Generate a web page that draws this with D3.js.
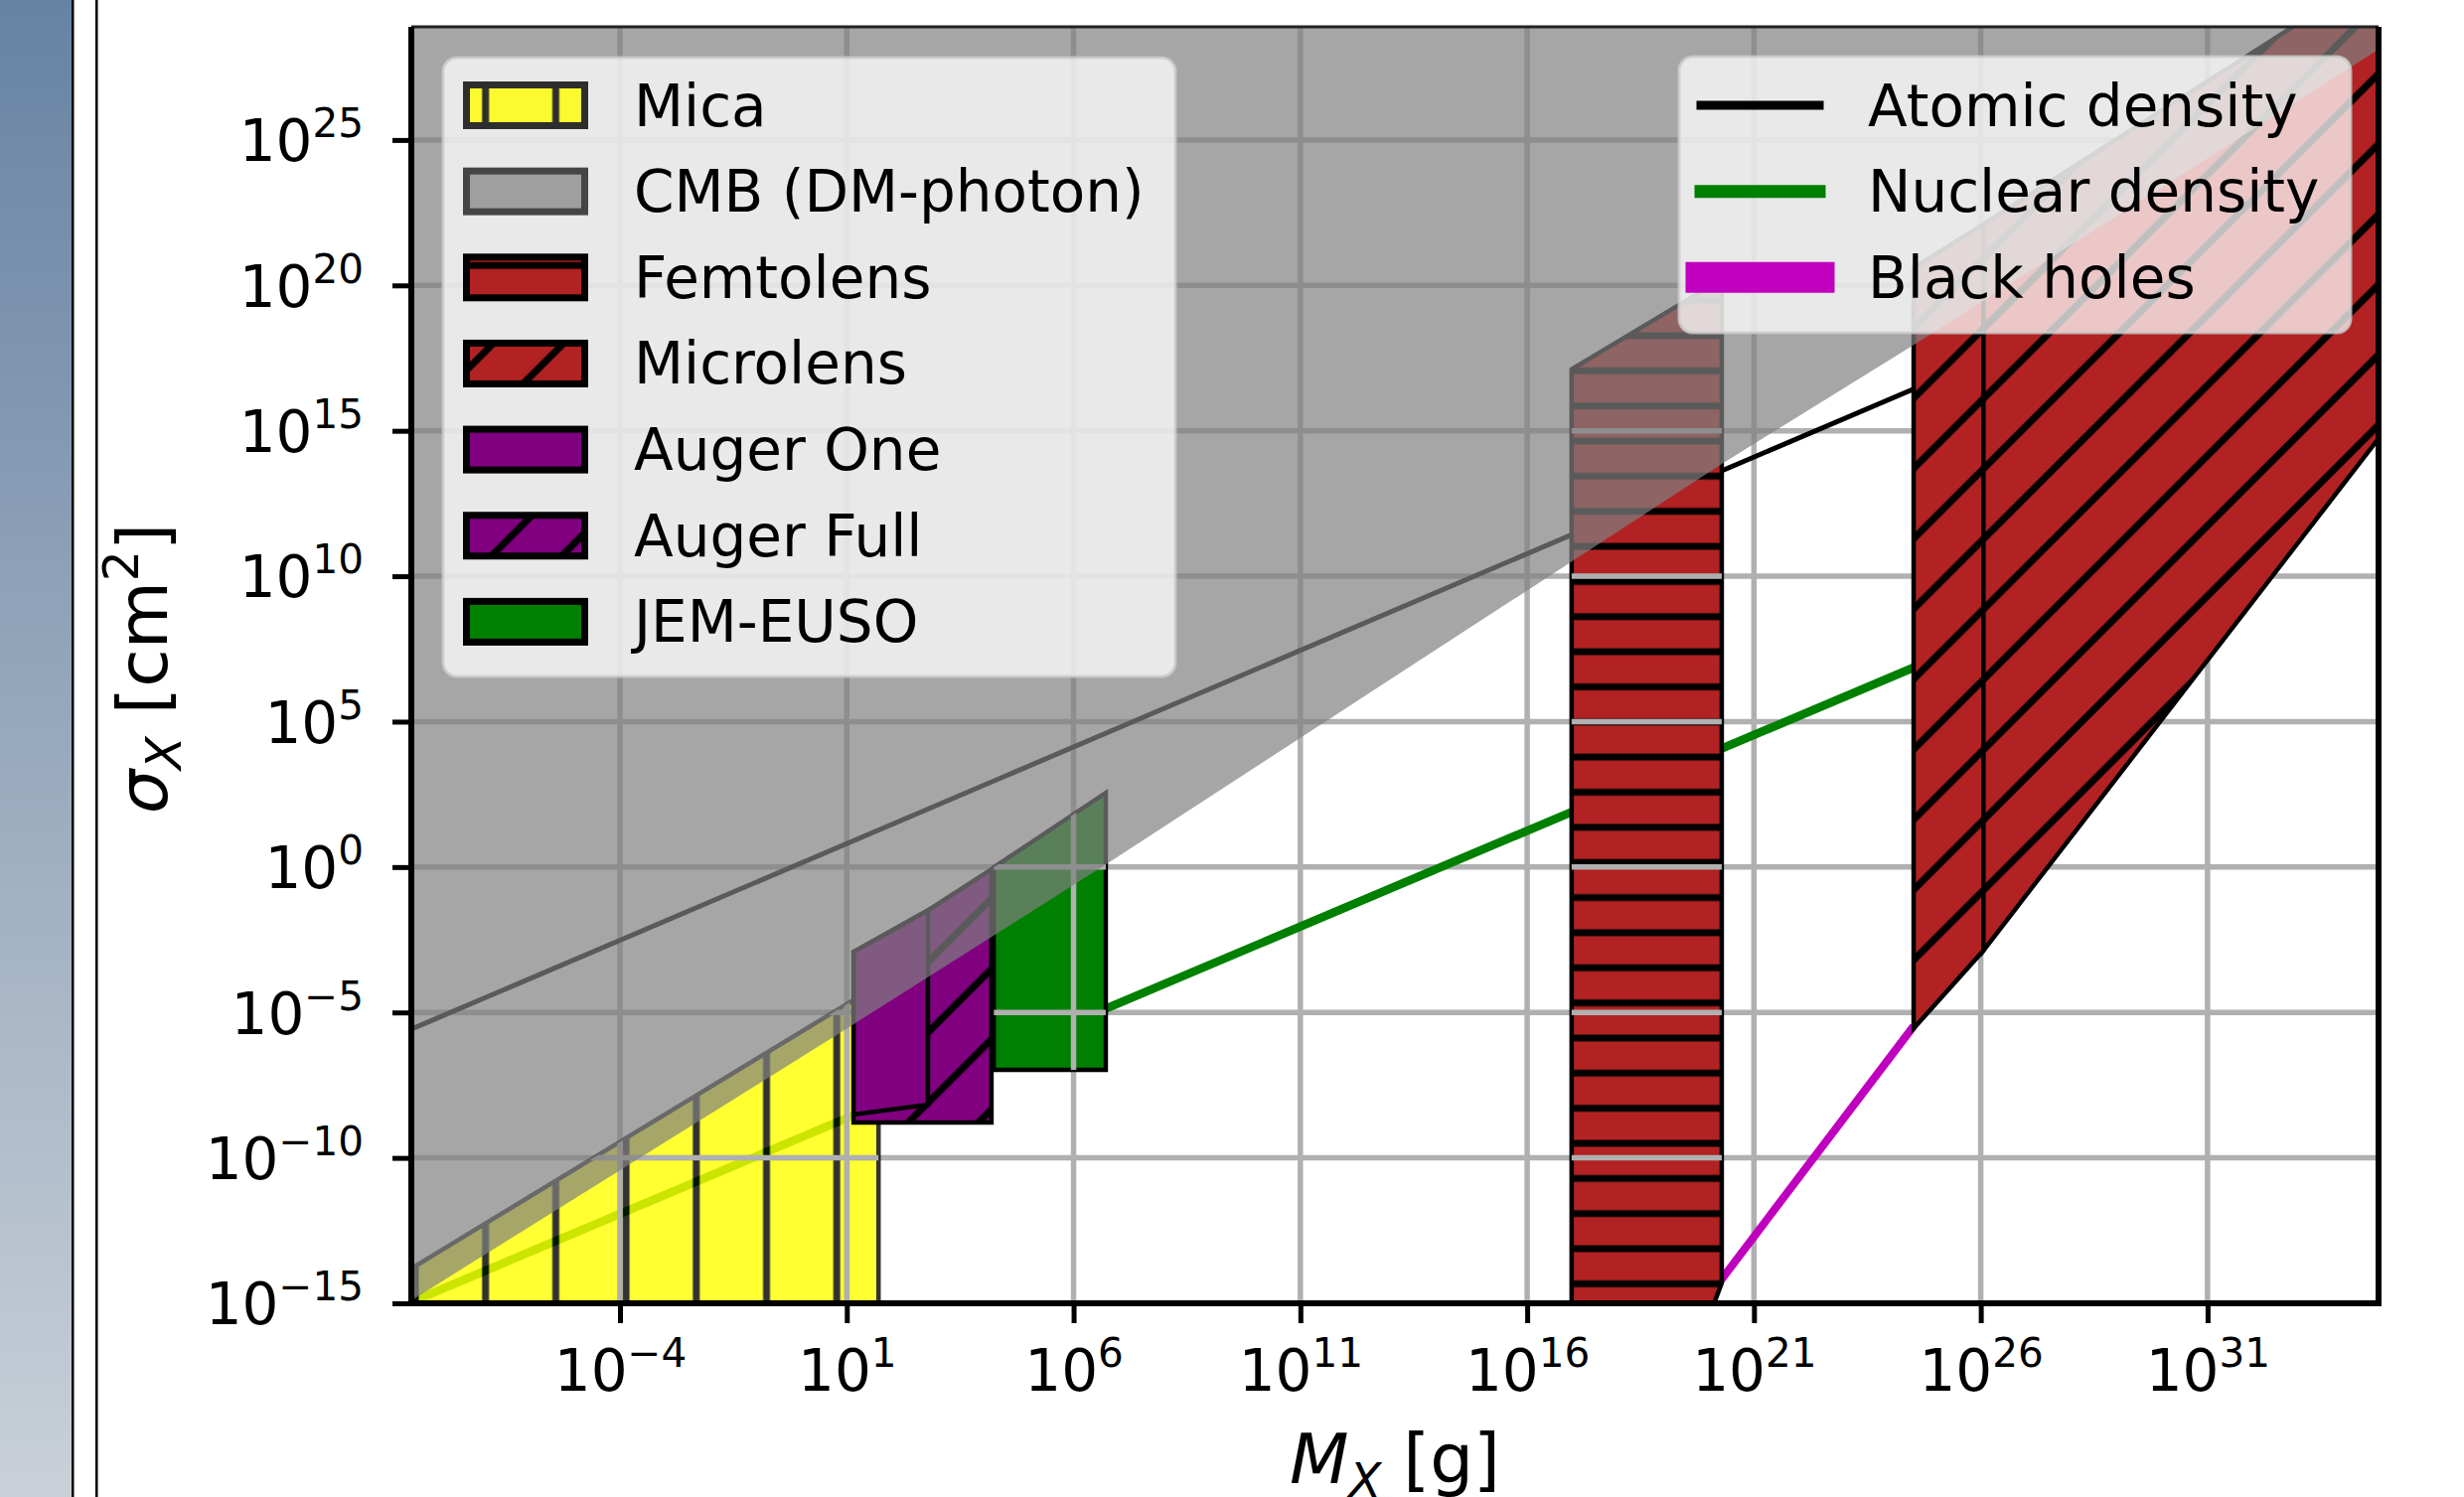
<!DOCTYPE html>
<html>
<head>
<meta charset="utf-8">
<script src="https://cdn.jsdelivr.net/npm/d3@7"></script>
<style>
  html, body { margin: 0; padding: 0; background: #fff; }
  svg { display: block; font-family: "DejaVu Sans", sans-serif; }
</style>
</head>
<body>
<script>
// all values are log10 exponents: [log10 M (g), log10 sigma (cm^2)]
var xTicks = [-4, 1, 6, 11, 16, 21, 26, 31]
var yTicks = [-15, -10, -5, 0, 5, 10, 15, 20, 25]
var xDomain = [-8.6, 34.77]
var yDomain = [-15, 28.89]

var mica = [[-8.7, -15.3], [-8.7, -13.9], [1.70, -4.05], [1.70, -15.3]]
var cmb = [[-8.7, -15.0], [0.73, -5.82], [6.72, 0.10], [20.30, 13.87], [24.54, 17.97], [35, 28.34], [35, 31], [-8.7, 31]]
var femtolens = [[16.98, -15.3], [16.98, 17.11], [20.29, 20.21], [20.29, -14.3], [20.05, -15.3]]
var microlensA = [[24.52, -5.55], [24.52, 20.6], [26.06, 22.1], [26.06, -2.87]]
var microlensB = [[26.06, -2.87], [26.06, 22.1], [35, 31], [35, 15.2]]
var augerFull = [[1.15, -8.78], [1.15, -2.92], [2.79, -1.49], [4.19, -0.08], [4.19, -8.78]]
var augerOne = [[1.15, -8.51], [1.15, -2.92], [2.79, -1.49], [2.79, -8.17]]
var jemEuso = [[4.24, -6.97], [4.24, -0.01], [6.71, 2.55], [6.71, -6.97]]

var atomic = [[-8.7, -5.64], [24.54, 16.45]]
var nuclear = [[-8.7, -15.02], [24.52, 6.86]]
var blackHoles = [[19.74, -15.3], [24.52, -5.47]]

var legendLeft = ['Mica', 'CMB (DM-photon)', 'Femtolens', 'Microlens', 'Auger One', 'Auger Full', 'JEM-EUSO']
var legendRight = ['Atomic density', 'Nuclear density', 'Black holes']

var W = 2480, H = 1507
var pL = 414, pR = 2394, pT = 27, pB = 1312
var P = 70.7 // hatch period

var svg = d3.select('body').append('svg').attr('width', W).attr('height', H)
var defs = svg.append('defs')

// side panel of the page
var grad = defs.append('linearGradient').attr('id', 'side')
  .attr('x1', 0).attr('y1', 0).attr('x2', 0).attr('y2', 1)
grad.append('stop').attr('offset', 0).attr('stop-color', '#6783a3')
grad.append('stop').attr('offset', 1).attr('stop-color', '#c9d0d8')
svg.append('rect').attr('width', 72).attr('height', H).attr('fill', 'url(#side)')
svg.append('rect').attr('x', 72).attr('width', 2.5).attr('height', H).attr('fill', '#000')
svg.append('rect').attr('x', 96).attr('width', 2.5).attr('height', H).attr('fill', '#000')

var x = d3.scaleLog().domain(xDomain.map(function(e){ return Math.pow(10, e) })).range([pL, pR])
var y = d3.scaleLog().domain(yDomain.map(function(e){ return Math.pow(10, e) })).range([pB, pT])
function px(d){ return x(Math.pow(10, d[0])) }
function py(d){ return y(Math.pow(10, d[1])) }
var line = d3.line().x(px).y(py)
function poly(d){ return line(d) + 'Z' }

function hatch(id, color, kind){
  var p = defs.append('pattern').attr('id', id)
    .attr('patternUnits', 'userSpaceOnUse')
    .attr('width', P).attr('height', kind == '-' ? P / 2 : P)
    .attr('x', kind == '-' ? 0 : 64.5).attr('y', kind == '-' ? 19.8 : 0)
  p.append('rect').attr('width', P).attr('height', P).attr('fill', color)
  var segs
  if (kind == '|') segs = [[0, 0, 0, P], [P, 0, P, P]]
  else if (kind == '-') segs = [[0, 0, P, 0], [0, P / 2, P, P / 2]]
  else segs = [[0, P, P, 0], [-P / 2, P / 2, P / 2, -P / 2], [P / 2, P * 1.5, P * 1.5, P / 2]]
  segs.forEach(function(s){
    p.append('line').attr('x1', s[0]).attr('y1', s[1]).attr('x2', s[2]).attr('y2', s[3])
      .attr('stroke', '#000').attr('stroke-width', 7)
  })
}
hatch('hMica', '#ffff00', '|')
hatch('hFemto', '#b22222', '-')
hatch('hMicro', '#b22222', '/')
hatch('hAuger', '#800080', '/')

defs.append('clipPath').attr('id', 'plot').append('rect')
  .attr('x', pL).attr('y', pT).attr('width', pR - pL).attr('height', pB - pT)
var under = defs.append('clipPath').attr('id', 'under')
;[mica, jemEuso, femtolens].forEach(function(d){ under.append('path').attr('d', poly(d)) })

var plot = svg.append('g').attr('clip-path', 'url(#plot)')

function grid(g){
  xTicks.forEach(function(e){
    g.append('line').attr('x1', x(Math.pow(10, e))).attr('x2', x(Math.pow(10, e)))
      .attr('y1', pT).attr('y2', pB).attr('stroke', '#b0b0b0').attr('stroke-width', 5.5)
  })
  yTicks.forEach(function(e){
    g.append('line').attr('y1', y(Math.pow(10, e))).attr('y2', y(Math.pow(10, e)))
      .attr('x1', pL).attr('x2', pR).attr('stroke', '#b0b0b0').attr('stroke-width', 5.5)
  })
}
grid(plot.append('g'))

// density lines
plot.append('path').attr('d', line(atomic)).attr('stroke', '#000').attr('stroke-width', 5).attr('fill', 'none')
plot.append('path').attr('d', line(nuclear)).attr('stroke', '#008000').attr('stroke-width', 8.5).attr('fill', 'none')
plot.append('path').attr('d', line(blackHoles)).attr('stroke', '#bf00bf').attr('stroke-width', 8).attr('fill', 'none')

// regions below the grid
plot.append('g').attr('opacity', 0.8).append('path').attr('d', poly(mica))
  .attr('fill', 'url(#hMica)').attr('stroke', '#000').attr('stroke-width', 4.5)
plot.append('path').attr('d', poly(jemEuso)).attr('fill', '#008000').attr('stroke', '#000').attr('stroke-width', 4.5)
plot.append('path').attr('d', poly(femtolens)).attr('fill', 'url(#hFemto)').attr('stroke', '#000').attr('stroke-width', 4.5)
grid(plot.append('g').attr('clip-path', 'url(#under)'))

// regions above the grid
plot.append('path').attr('d', poly(augerFull)).attr('fill', 'url(#hAuger)').attr('stroke', '#000').attr('stroke-width', 4.5)
plot.append('path').attr('d', poly(augerOne)).attr('fill', '#800080').attr('stroke', '#000').attr('stroke-width', 4.5)
plot.append('path').attr('d', poly(microlensA)).attr('fill', 'url(#hMicro)').attr('stroke', '#000').attr('stroke-width', 4.5)
plot.append('path').attr('d', poly(microlensB)).attr('fill', 'url(#hMicro)').attr('stroke', '#000').attr('stroke-width', 4.5)

// CMB on top
plot.append('path').attr('d', poly(cmb)).attr('fill', '#808080').attr('fill-opacity', 0.7)

// axes
function supLabel(t, e){
  t.text(null)
  t.append('tspan').text('10')
  t.append('tspan').attr('dy', -24).attr('font-size', 40.5).text(e < 0 ? '\u2212' + (-e) : String(e))
}
var yAxis = d3.axisLeft(y).tickValues(yTicks.map(function(e){ return Math.pow(10, e) }))
  .tickSize(19).tickPadding(29).tickFormat(function(){ return '' })
var gy = svg.append('g').attr('transform', 'translate(' + pL + ',0)').call(yAxis)
gy.attr('font-size', 58).attr('font-family', '"DejaVu Sans", sans-serif')
gy.select('.domain').remove()
gy.selectAll('.tick line').attr('stroke', '#000').attr('stroke-width', 5)
gy.selectAll('.tick text').attr('fill', '#000').attr('dy', '0.36em')
  .each(function(d){ supLabel(d3.select(this), Math.round(Math.log10(d))) })

var xAxis = d3.axisBottom(x).tickValues(xTicks.map(function(e){ return Math.pow(10, e) }))
  .tickSize(20).tickPadding(27).tickFormat(function(){ return '' })
var gx = svg.append('g').attr('transform', 'translate(0,' + pB + ')').call(xAxis)
gx.attr('font-size', 58).attr('font-family', '"DejaVu Sans", sans-serif')
gx.select('.domain').remove()
gx.selectAll('.tick line').attr('stroke', '#000').attr('stroke-width', 5)
gx.selectAll('.tick text').attr('fill', '#000').attr('dy', '0.71em')
  .each(function(d){ supLabel(d3.select(this), Math.round(Math.log10(d))) })

// spines
svg.append('line').attr('x1', pL).attr('x2', pR).attr('y1', pT).attr('y2', pT).attr('stroke', '#222').attr('stroke-width', 3)
svg.append('line').attr('x1', pL).attr('x2', pL).attr('y1', pT).attr('y2', pB + 3).attr('stroke', '#000').attr('stroke-width', 6)
svg.append('line').attr('x1', pR).attr('x2', pR).attr('y1', pT).attr('y2', pB + 3).attr('stroke', '#000').attr('stroke-width', 6)
svg.append('line').attr('x1', pL - 3).attr('x2', pR + 3).attr('y1', pB).attr('y2', pB).attr('stroke', '#000').attr('stroke-width', 6)

// axis titles
var xl = svg.append('text').attr('x', (pL + pR) / 2).attr('y', 1493)
  .attr('text-anchor', 'middle').attr('font-size', 69)
xl.append('tspan').attr('font-style', 'italic').text('M')
xl.append('tspan').attr('font-style', 'italic').attr('font-size', 48).attr('dy', 14).text('X')
xl.append('tspan').attr('dy', -14).text(' [g]')

var yl = svg.append('text').attr('transform', 'translate(168,673) rotate(-90)')
  .attr('text-anchor', 'middle').attr('font-size', 70)
yl.append('tspan').attr('font-style', 'italic').text('\u03c3')
yl.append('tspan').attr('font-style', 'italic').attr('font-size', 49).attr('dy', 14).text('X')
yl.append('tspan').attr('dy', -14).text(' [cm')
yl.append('tspan').attr('font-size', 49).attr('dy', -29).text('2')
yl.append('tspan').attr('dy', 29).text(']')

// legends
var rowY = d3.scaleLinear().domain([0, 1]).range([106, 192.65])
var leftStyles = [
  {fill: 'url(#hMica)', stroke: '#000', op: 0.8},
  {fill: '#808080', stroke: '#000', op: 0.7},
  {fill: 'url(#hFemto)', stroke: '#000', op: 1},
  {fill: 'url(#hMicro)', stroke: '#000', op: 1},
  {fill: '#800080', stroke: '#000', op: 1},
  {fill: 'url(#hAuger)', stroke: '#000', op: 1},
  {fill: '#008000', stroke: '#000', op: 1}
]
var lg = svg.append('g')
lg.append('rect').attr('x', 446).attr('y', 58).attr('width', 737).attr('height', 623).attr('rx', 14)
  .attr('fill', '#fff').attr('fill-opacity', 0.75).attr('stroke', '#ccc').attr('stroke-opacity', 0.8).attr('stroke-width', 3)
legendLeft.forEach(function(name, i){
  var c = rowY(i), s = leftStyles[i]
  lg.append('rect').attr('x', 469.5).attr('y', c - 20.5).attr('width', 119).attr('height', 41)
    .attr('fill', s.fill).attr('stroke', s.stroke).attr('stroke-width', 7).attr('opacity', s.op)
  lg.append('text').attr('x', 638).attr('y', c + 20.5).attr('font-size', 58).attr('fill', '#000').text(name)
})

var rightStyles = [
  {color: '#000', w: 9},
  {color: '#008000', w: 13},
  {color: '#bf00bf', w: 31}
]
var rg = svg.append('g')
rg.append('rect').attr('x', 1690).attr('y', 57).attr('width', 676).attr('height', 278).attr('rx', 14)
  .attr('fill', '#fff').attr('fill-opacity', 0.75).attr('stroke', '#ccc').attr('stroke-opacity', 0.8).attr('stroke-width', 3)
legendRight.forEach(function(name, i){
  var c = rowY(i), s = rightStyles[i]
  rg.append('line').attr('x1', 1712).attr('x2', 1831).attr('y1', c).attr('y2', c)
    .attr('stroke', s.color).attr('stroke-width', s.w).attr('stroke-linecap', 'square')
  rg.append('text').attr('x', 1880).attr('y', c + 20.5).attr('font-size', 58).attr('fill', '#000').text(name)
})
</script>
</body>
</html>
